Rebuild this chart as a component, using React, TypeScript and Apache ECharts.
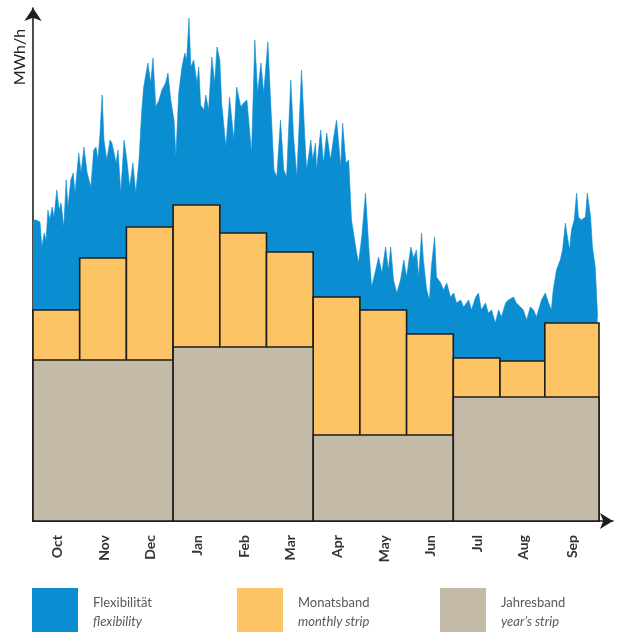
import React, { useEffect, useRef } from "react";
import * as echarts from "echarts";

const months = ["Oct", "Nov", "Dec", "Jan", "Feb", "Mar", "Apr", "May", "Jun", "Jul", "Aug", "Sep"];
const monthEdges = [0, 1, 2, 3, 4, 5, 6, 7, 8, 9, 10, 10.96, 12.12];
const monthlyStrip = [42.2, 52.6, 58.8, 63.2, 57.6, 53.8, 44.8, 42.2, 37.4, 32.6, 32.0, 39.6];
const yearStrip = [32.2, 34.8, 17.2, 24.8];

const flexTime = [
  0, 0.06, 0.15, 0.19, 0.24, 0.28, 0.32, 0.36, 0.41, 0.45, 0.51, 0.56, 0.6, 0.66, 0.71, 0.75, 0.81, 0.86, 0.9, 0.98,
  1.03, 1.09, 1.16, 1.24, 1.3, 1.35, 1.39, 1.43, 1.48, 1.52, 1.58, 1.65, 1.69, 1.78, 1.82, 1.88, 1.95, 2.01, 2.07, 2.14,
  2.2, 2.27, 2.33, 2.37, 2.46, 2.52, 2.57, 2.63, 2.7, 2.76, 2.84, 2.89, 2.95, 3.02, 3.06, 3.12, 3.19, 3.25, 3.29, 3.34,
  3.38, 3.44, 3.51, 3.55, 3.59, 3.66, 3.7, 3.76, 3.83, 3.89, 3.94, 4.0, 4.04, 4.13, 4.21, 4.3, 4.36, 4.45, 4.51, 4.58,
  4.68, 4.75, 4.81, 4.88, 4.94, 5.03, 5.09, 5.16, 5.22, 5.3, 5.37, 5.43, 5.52, 5.58, 5.65, 5.75, 5.82, 5.86, 5.95, 5.99,
  6.05, 6.07, 6.16, 6.22, 6.29, 6.37, 6.44, 6.5, 6.59, 6.63, 6.7, 6.76, 6.82, 6.91, 6.97, 7.04, 7.12, 7.19, 7.25, 7.34,
  7.4, 7.47, 7.55, 7.61, 7.66, 7.72, 7.79, 7.87, 7.94, 8.0, 8.09, 8.15, 8.21, 8.26, 8.32, 8.36, 8.43, 8.49, 8.53, 8.6,
  8.64, 8.73, 8.79, 8.86, 8.94, 9.01, 9.07, 9.16, 9.22, 9.33, 9.39, 9.48, 9.54, 9.6, 9.69, 9.75, 9.82, 9.9, 9.97, 10.03,
  10.12, 10.18, 10.29, 10.35, 10.44, 10.5, 10.57, 10.65, 10.72, 10.78, 10.89, 10.97, 11.04, 11.1, 11.14, 11.21, 11.29,
  11.34, 11.4, 11.42, 11.49, 11.53, 11.59, 11.64, 11.68, 11.74, 11.83, 11.87, 11.94, 11.98, 12.04, 12.09,
];
const flexValue = [
  60.2, 60.2, 59.8, 54.8, 57.6, 56.2, 62.2, 60.2, 62.8, 60.8, 66.2, 62.2, 63.6, 58.8, 68.2, 62.8, 68.2, 69.6, 65.6, 73.6,
  69.6, 74.8, 69.6, 66.8, 74.2, 74.8, 72.2, 76.8, 85.2, 76.2, 72.2, 76.2, 75.6, 71.6, 74.2, 65.6, 76.2, 72.2, 66.8, 71.6,
  65.6, 72.2, 82.2, 86.8, 91.6, 87.6, 92.6, 82.8, 84.2, 86.2, 87.6, 89.6, 84.2, 80.2, 72.8, 85.6, 90.8, 93.6, 92.2, 100.6,
  90.8, 92.2, 87.6, 90.8, 83.2, 82.2, 85.2, 82.2, 92.8, 87.6, 94.8, 92.2, 83.6, 74.8, 84.8, 76.2, 86.8, 82.8, 83.6, 84.2,
  73.6, 96.2, 85.6, 91.6, 85.6, 95.8, 83.6, 70.2, 68.8, 80.2, 70.2, 68.8, 88.2, 76.8, 68.8, 90.2, 76.8, 70.2, 76.2, 72.2,
  75.6, 70.2, 78.2, 71.6, 77.6, 72.2, 76.8, 80.2, 70.8, 79.6, 71.6, 72.2, 60.2, 54.8, 51.6, 56.8, 65.6, 54.8, 46.8, 50.2,
  52.8, 49.6, 54.8, 50.2, 54.8, 48.2, 45.6, 48.2, 52.2, 48.8, 54.8, 52.6, 54.2, 48.8, 57.6, 52.2, 46.2, 44.2, 50.8, 56.8,
  48.8, 47.6, 46.2, 47.6, 44.8, 45.6, 43.6, 44.2, 42.8, 44.2, 42.2, 44.8, 45.6, 42.2, 43.6, 41.6, 42.2, 39.6, 42.2, 40.8,
  43.6, 44.2, 44.8, 43.6, 42.8, 42.2, 40.2, 42.8, 42.2, 40.8, 44.2, 45.6, 43.6, 42.2, 46.2, 50.2, 52.2,
  54.2, 59.6, 58.2, 54.2, 58.2, 60.2, 65.6, 60.8, 60.2, 60.8, 65.6, 60.8, 54.8, 50.8, 40.8,
];

const seriesNames = ["Flexibilität", "Monatsband", "Jahresband"];
const seriesSubNames = ["flexibility", "monthly strip", "year\u2019s strip"];

const BLUE = "#0b8dd2";
const ORANGE = "#fdc465";
const GRAY = "#c3bba8";
const EDGE = "#1e1e1e";
const FONT = "Lato, 'Open Sans', sans-serif";

const monthCenters = months.map((_, i) => (monthEdges[i] + monthEdges[i + 1]) / 2);

function makeRender(fill: string) {
  return (params: any, api: any) => {
    const x0 = api.value(0);
    const x1 = api.value(1);
    const top = api.value(2);
    const p0 = api.coord([x0, top]);
    const p1 = api.coord([x1, 0]);
    return {
      type: "rect",
      shape: { x: p0[0], y: p0[1], width: p1[0] - p0[0], height: p1[1] - p0[1] },
      style: { fill, stroke: EDGE, lineWidth: 1.6 },
    };
  };
}

export default function App() {
  const ref = useRef<HTMLDivElement>(null);
  useEffect(() => {
    if (!ref.current) return;
    const chart = echarts.init(ref.current, null, { renderer: "svg" });
    const monthData = months.map((_, i) => [monthEdges[i], monthEdges[i + 1], monthlyStrip[i]]);
    const yearData = yearStrip.map((v, q) => [monthEdges[q * 3], monthEdges[q * 3 + 3], v]);
    const flexData = flexTime.map((t, i) => [t, flexValue[i]]);

    const legendBase = (idx: number, left: number) => ({
      data: [seriesNames[idx]],
      left,
      top: 588,
      padding: 0,
      icon: "rect",
      itemWidth: 46,
      itemHeight: 46,
      selectedMode: false,
      itemStyle: { borderWidth: 0 },
      formatter: (name: string) => `{a|${name}}\n{b|${seriesSubNames[seriesNames.indexOf(name)]}}`,
      textStyle: {
        padding: [0, 0, 0, 10],
        rich: {
          a: { fontFamily: FONT, fontSize: 13, color: "#595959", lineHeight: 19 },
          b: { fontFamily: FONT, fontSize: 13, color: "#595959", fontStyle: "italic", lineHeight: 19 },
        },
      },
    });

    chart.setOption({
      animation: false,
      grid: { left: 33, right: 4, top: 8, bottom: 111, containLabel: false },
      xAxis: {
        type: "value",
        min: 0,
        max: 12.42,
        splitLine: { show: false },
        axisTick: { show: false },
        axisLine: {
          show: true,
          onZero: false,
          symbol: ["none", "arrow"],
          symbolSize: [12, 13],
          lineStyle: { color: EDGE, width: 1.6 },
        },
        axisLabel: {
          customValues: monthCenters,
          rotate: 90,
          margin: 14,
          fontFamily: FONT,
          fontWeight: "bold",
          fontSize: 14,
          color: "#333",
          formatter: (v: number) => {
            const i = monthCenters.findIndex((c) => Math.abs(c - v) < 1e-6);
            return i >= 0 ? months[i] : "";
          },
        },
      },
      yAxis: {
        type: "value",
        min: 0,
        max: 102.6,
        splitLine: { show: false },
        axisTick: { show: false },
        axisLabel: { show: false },
        axisLine: {
          show: true,
          symbol: ["none", "arrow"],
          symbolSize: [13, 13],
          lineStyle: { color: EDGE, width: 1.6 },
        },
      },
      legend: [legendBase(0, 32), legendBase(1, 237), legendBase(2, 440)],
      graphic: [
        {
          type: "text",
          x: 18,
          y: 57,
          rotation: Math.PI / 2,
          style: {
            text: "MWh/h",
            fontFamily: FONT,
            fontSize: 16,
            fill: "#222",
            align: "center",
            verticalAlign: "middle",
          },
        },
      ],
      series: [
        {
          name: seriesNames[0],
          type: "line",
          data: flexData,
          showSymbol: false,
          symbol: "none",
          itemStyle: { color: BLUE },
          lineStyle: { color: BLUE, width: 0.6 },
          areaStyle: { color: BLUE, opacity: 1 },
          z: 1,
        },
        {
          name: seriesNames[1],
          type: "custom",
          renderItem: makeRender(ORANGE),
          encode: { x: [0, 1], y: 2 },
          itemStyle: { color: ORANGE },
          data: monthData,
          z: 2,
        },
        {
          name: seriesNames[2],
          type: "custom",
          renderItem: makeRender(GRAY),
          encode: { x: [0, 1], y: 2 },
          itemStyle: { color: GRAY },
          data: yearData,
          z: 3,
        },
      ],
    });
    return () => chart.dispose();
  }, []);
  return <div ref={ref} style={{ position: "fixed", left: 0, top: 0, width: 617, height: 632 }} />;
}
